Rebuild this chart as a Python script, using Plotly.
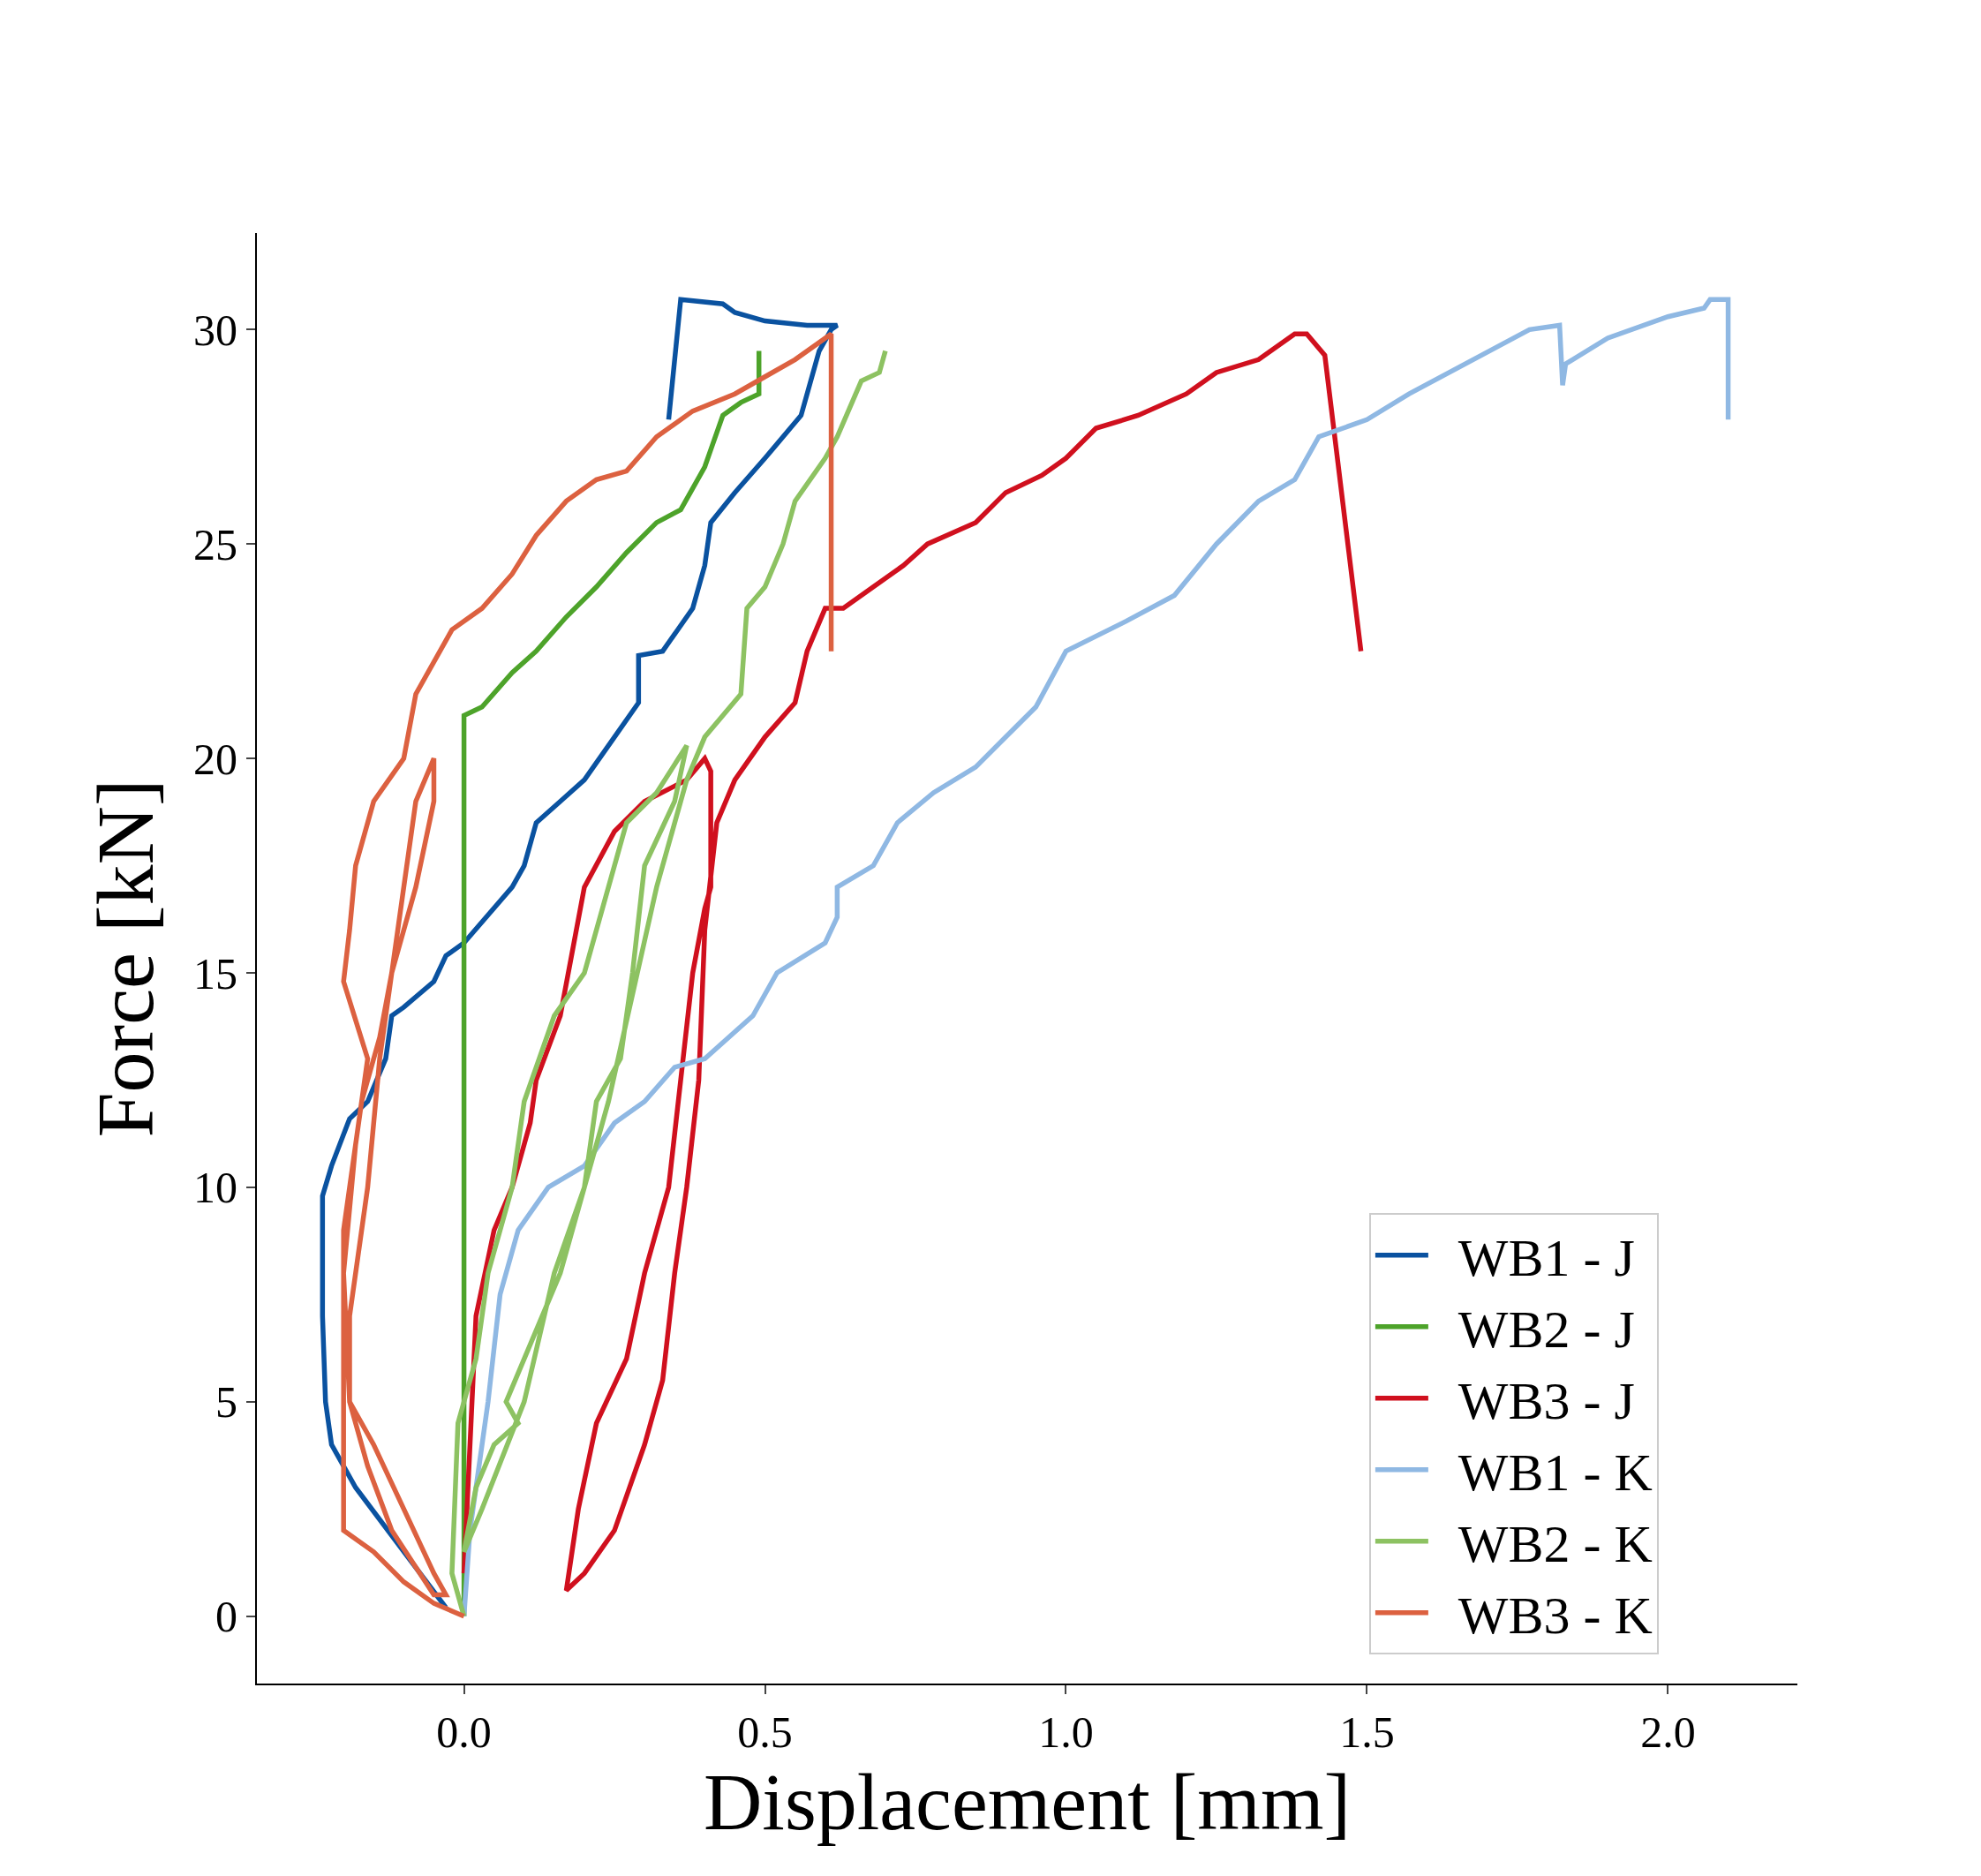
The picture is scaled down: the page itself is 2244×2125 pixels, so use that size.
import plotly.graph_objects as go

# WB1 - J
wb1j_x = [-0.03, -0.1, -0.18, -0.22, -0.23, -0.235, -0.235, -0.22, -0.19, -0.16, -0.13, -0.12, -0.1, -0.05, -0.03, 0.0, 0.03, 0.08, 0.1, 0.12, 0.16, 0.2, 0.25, 0.29, 0.29, 0.33, 0.38, 0.4, 0.41, 0.45, 0.5, 0.53, 0.56, 0.59, 0.61, 0.62, 0.57, 0.5, 0.45, 0.43, 0.36, 0.34]
wb1j_y = [0.2, 1.5, 3.0, 4.0, 5.0, 7.0, 9.8, 10.5, 11.6, 12.0, 13.0, 14.0, 14.2, 14.8, 15.4, 15.7, 16.2, 17.0, 17.5, 18.5, 19.0, 19.5, 20.5, 21.3, 22.4, 22.5, 23.5, 24.5, 25.5, 26.2, 27.0, 27.5, 28.0, 29.5, 30.0, 30.1, 30.1, 30.2, 30.4, 30.6, 30.7, 27.9]

# WB2 - J
wb2j_x = [0.0, 0.0, 0.0, 0.03, 0.08, 0.12, 0.17, 0.22, 0.27, 0.32, 0.36, 0.4, 0.43, 0.46, 0.49, 0.49]
wb2j_y = [0.0, 10.0, 21.0, 21.2, 22.0, 22.5, 23.3, 24.0, 24.8, 25.5, 25.8, 26.8, 28.0, 28.3, 28.5, 29.5]

# WB3 - J
wb3j_x = [0.0, 0.02, 0.05, 0.08, 0.11, 0.12, 0.16, 0.2, 0.25, 0.3, 0.37, 0.4, 0.41, 0.41, 0.4, 0.38, 0.36, 0.34, 0.3, 0.27, 0.22, 0.19, 0.17, 0.2, 0.25, 0.3, 0.33, 0.35, 0.37, 0.39, 0.4, 0.42, 0.45, 0.5, 0.55, 0.57, 0.6, 0.63, 0.68, 0.73, 0.77, 0.85, 0.9, 0.96, 1.0, 1.05, 1.12, 1.2, 1.25, 1.32, 1.38, 1.4, 1.43, 1.49]
wb3j_y = [1.0, 7.0, 9.0, 10.0, 11.5, 12.5, 14.0, 17.0, 18.3, 19.0, 19.5, 20.0, 19.7, 17.0, 16.5, 15.0, 12.5, 10.0, 8.0, 6.0, 4.5, 2.5, 0.6, 1.0, 2.0, 4.0, 5.5, 8.0, 10.0, 12.5, 16.0, 18.5, 19.5, 20.5, 21.3, 22.5, 23.5, 23.5, 24.0, 24.5, 25.0, 25.5, 26.2, 26.6, 27.0, 27.7, 28.0, 28.5, 29.0, 29.3, 29.9, 29.9, 29.4, 22.5]

# WB1 - K
wb1k_x = [0.0, 0.01, 0.04, 0.06, 0.09, 0.14, 0.2, 0.25, 0.3, 0.35, 0.4, 0.48, 0.52, 0.6, 0.62, 0.62, 0.68, 0.72, 0.78, 0.85, 0.9, 0.95, 1.0, 1.1, 1.18, 1.25, 1.32, 1.38, 1.42, 1.5, 1.57, 1.65, 1.7, 1.77, 1.82, 1.825, 1.83, 1.9, 2.0, 2.06, 2.07, 2.1, 2.1]
wb1k_y = [0.0, 2.0, 5.0, 7.5, 9.0, 10.0, 10.5, 11.5, 12.0, 12.8, 13.0, 14.0, 15.0, 15.7, 16.3, 17.0, 17.5, 18.5, 19.2, 19.8, 20.5, 21.2, 22.5, 23.2, 23.8, 25.0, 26.0, 26.5, 27.5, 27.9, 28.5, 29.1, 29.5, 30.0, 30.1, 28.7, 29.2, 29.8, 30.3, 30.5, 30.7, 30.7, 27.9]

# WB2 - K
wb2k_x = [0.0, -0.02, -0.01, 0.02, 0.04, 0.08, 0.1, 0.15, 0.2, 0.24, 0.27, 0.32, 0.37, 0.35, 0.3, 0.28, 0.26, 0.22, 0.2, 0.16, 0.13, 0.1, 0.07, 0.09, 0.05, 0.02, 0.0, 0.03, 0.1, 0.15, 0.2, 0.24, 0.28, 0.32, 0.37, 0.4, 0.46, 0.47, 0.5, 0.53, 0.55, 0.6, 0.62, 0.66, 0.69, 0.7]
wb2k_y = [0.0, 1.0, 4.5, 6.0, 8.0, 10.0, 12.0, 14.0, 15.0, 17.0, 18.5, 19.2, 20.3, 19.0, 17.5, 15.0, 13.0, 12.0, 10.0, 8.0, 7.0, 6.0, 5.0, 4.5, 4.0, 3.0, 1.5, 2.5, 5.0, 8.0, 10.0, 12.0, 14.5, 17.0, 19.5, 20.5, 21.5, 23.5, 24.0, 25.0, 26.0, 27.0, 27.5, 28.8, 29.0, 29.5]

# WB3 - K
wb3k_x = [0.0, -0.05, -0.1, -0.15, -0.2, -0.2, -0.2, -0.2, -0.17, -0.14, -0.12, -0.1, -0.08, -0.05, -0.05, -0.08, -0.12, -0.14, -0.16, -0.19, -0.19, -0.15, -0.1, -0.05, -0.03, -0.05, -0.12, -0.16, -0.19, -0.2, -0.18, -0.16, -0.2, -0.19, -0.18, -0.15, -0.1, -0.08, -0.02, 0.03, 0.08, 0.12, 0.17, 0.22, 0.27, 0.32, 0.38, 0.45, 0.5, 0.55, 0.61, 0.61]
wb3k_y = [0.0, 0.3, 0.8, 1.5, 2.0, 4.0, 6.0, 9.0, 12.0, 13.5, 15.0, 17.0, 19.0, 20.0, 19.0, 17.0, 15.0, 13.0, 10.0, 7.0, 5.0, 4.0, 2.5, 1.0, 0.5, 0.5, 2.0, 3.5, 5.0, 8.0, 11.0, 13.0, 14.8, 16.0, 17.5, 19.0, 20.0, 21.5, 23.0, 23.5, 24.3, 25.2, 26.0, 26.5, 26.7, 27.5, 28.1, 28.5, 28.9, 29.3, 29.9, 22.5]

series = [
    ("WB1 - J", wb1j_x, wb1j_y, "#0a52a0"),
    ("WB2 - J", wb2j_x, wb2j_y, "#4da32a"),
    ("WB3 - J", wb3j_x, wb3j_y, "#d0101e"),
    ("WB1 - K", wb1k_x, wb1k_y, "#8fb8e3"),
    ("WB2 - K", wb2k_x, wb2k_y, "#8dc262"),
    ("WB3 - K", wb3k_x, wb3k_y, "#dc6140"),
]

fig = go.Figure()
for name, x, y, c in series:
    fig.add_trace(go.Scatter(x=x, y=y, mode="lines", name="  " + name,
                             line=dict(color=c, width=5.5)))

font = "Liberation Serif, Times New Roman, serif"
fig.update_layout(
    width=2244, height=2125,
    margin=dict(l=283, r=216, t=256, b=226),
    plot_bgcolor="white", paper_bgcolor="white",
    font=dict(family=font, color="black"),
    legend=dict(x=0.722, y=0.02, xanchor="left", yanchor="bottom",
                font=dict(size=60), bordercolor="#cccccc", borderwidth=2,
                bgcolor="rgba(255,255,255,0.8)", itemwidth=60),
)
fig.update_xaxes(range=[-0.344, 2.215], tickvals=[0, 0.5, 1.0, 1.5, 2.0],
                 ticktext=["0.0", "0.5", "1.0", "1.5", "2.0"],
                 showgrid=False, zeroline=False, showline=True, linecolor="black", linewidth=2,
                 ticks="outside", ticklen=10, tickwidth=2, tickfont=dict(size=50),
                 title=dict(text="Displacement [mm]", font=dict(size=92)))
fig.update_yaxes(range=[-1.57, 32.25], tickvals=[0, 5, 10, 15, 20, 25, 30],
                 showgrid=False, zeroline=False, showline=True, linecolor="black", linewidth=2,
                 ticks="outside", ticklen=10, tickwidth=2, tickfont=dict(size=50),
                 title=dict(text="Force [kN]", font=dict(size=92)))

fig.write_html("out.html")
